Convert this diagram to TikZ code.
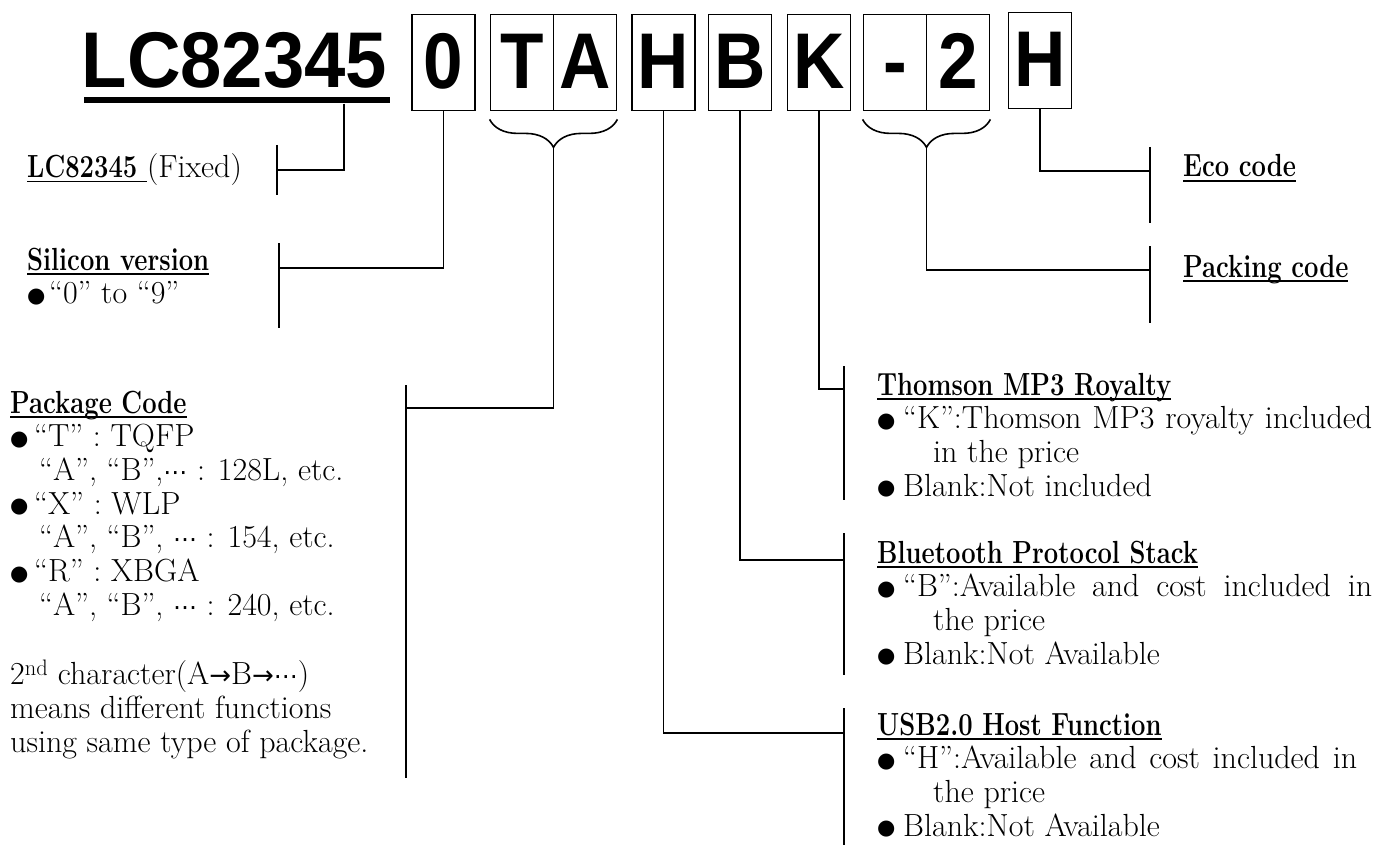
\documentclass[tikz,border=0pt]{standalone}
\usepackage{fontspec}
\usepackage{tikz}
\usetikzlibrary{calc,decorations.pathreplacing}

\newfontfamily\codefont{Liberation Sans}
\newfontfamily\symfont{DejaVu Sans}
\newcommand\bodyfont{\fontsize{32}{33.7}\selectfont}
\newcommand\bigchar[1]{\scalebox{0.9}[1]{\codefont\bfseries\fontsize{79}{79}\selectfont #1}}
\newcommand\ulined[1]{\setbox0\hbox{#1}\rlap{\rule[-4.5pt]{\wd0}{1.8pt}}\box0}
\newcommand\headtext[1]{\ulined{\scalebox{0.8}[1]{\bfseries #1}}}
\newcommand\dotmark[1][26pt]{\makebox[#1][l]{\raisebox{1.5pt}{\symfont\fontsize{21}{21}\selectfont ●}}}
\newcommand\middots{{\symfont\fontsize{24}{24}\selectfont ⋯}}
\newcommand\arr{{\symfont\fontsize{26}{26}\selectfont →}}

\begin{document}
\begin{tikzpicture}[x=1pt,y=-1pt,
  digit/.style={draw, line width=1.8pt, minimum width=63pt, minimum height=96pt,
    inner sep=0pt, text height=57pt, text depth=4pt},
  wire/.style={line width=1.6pt},
  brace/.style={decorate, decoration={brace, mirror, amplitude=28pt}, line width=1.6pt},
  txt/.style={font=\bodyfont, inner sep=0pt, align=left}]
\useasboundingbox (0,0) rectangle (1375,845);

% part number
\node[anchor=base west, inner sep=0pt] (prefix) at (81.5,88)
  {\scalebox{0.94}[1]{\codefont\bfseries\fontsize{79}{79}\selectfont LC82345}};
\node[fill, inner sep=0pt, minimum width=306pt, minimum height=6.5pt, anchor=north west] (bar) at (83.5,96.7) {};

\node[digit] (c0) at (443.5,62.5) {\bigchar{0}};
\node[digit] (cT) at (522,62.5) {\bigchar{T}};
\node[digit] (cA) at (585,62.5) {\bigchar{A}};
\node[digit] (cH) at (663.5,62.5) {\bigchar{H}};
\node[digit] (cB) at (740,62.5) {\bigchar{B}};
\node[digit] (cK) at (819,62.5) {\bigchar{K}};
\node[digit] (cDash) at (895,62.5) {\bigchar{-}};
\node[digit] (c2) at (958,62.5) {\bigchar{2}};
\node[digit] (cEco) at (1040,60.5) {\bigchar{H}};

\draw[brace] ([yshift=-8pt]cT.south west) -- ([yshift=-8pt]cA.south east);
\draw[brace] ([yshift=-8pt]cDash.south west) -- ([yshift=-8pt]c2.south east);
\coordinate (pkgtip) at ($(cT.south west)!0.5!(cA.south east)+(0,36)$);
\coordinate (packtip) at ($(cDash.south west)!0.5!(c2.south east)+(0,36)$);
\coordinate (pfxdrop) at ($(bar.south east)+(-46,0)$);

% labels
\node[txt, anchor=base west] (fixed) at (27,178)
  {\ulined{\scalebox{0.8}[1]{\bfseries LC82345}\ }(Fixed)};
\node[txt, anchor=north west] (silicon) at (27,246.4)
  {\strut\headtext{Silicon version}\\
   \strut\dotmark[22pt]“0” to “9”};
\node[txt, anchor=north west] (package) at (10,389.4)
  {\strut\headtext{Package Code}\\
   \strut\dotmark[24pt]“T” : TQFP\\
   \strut\hspace*{29pt}“A”, “B”,\middots{} : 128L, etc.\\
   \strut\dotmark[24pt]“X” : WLP\\
   \strut\hspace*{29pt}“A”, “B”, \middots{} : 154, etc.\\
   \strut\dotmark[24pt]“R” : XBGA\\
   \strut\hspace*{29pt}“A”, “B”, \middots{} : 240, etc.\\
   \strut\\
   \strut 2\textsuperscript{nd} character(A\arr B\arr\middots)\\
   \strut means different functions\\
   \strut using same type of package.};
\node[txt, anchor=base west] (eco) at (1183,177) {\headtext{Eco code}};
\node[txt, anchor=base west] (packing) at (1183,277) {\headtext{Packing code}};
\node[txt, anchor=north west] (royalty) at (877,371.4)
  {\strut\headtext{Thomson MP3 Royalty}\\
   \strut\makebox[495pt][s]{\dotmark“K”:Thomson MP3 royalty included}\\
   \strut\hspace*{56pt}in the price\\
   \strut\dotmark Blank:Not included};
\node[txt, anchor=north west] (bluetooth) at (877,539.4)
  {\strut\headtext{Bluetooth Protocol Stack}\\
   \strut\makebox[495pt][s]{\dotmark“B”:Available and cost included in}\\
   \strut\hspace*{56pt}the price\\
   \strut\dotmark Blank:Not Available};
\node[txt, anchor=north west] (usb) at (877,711.4)
  {\strut\headtext{USB2.0 Host Function}\\
   \strut\makebox[480pt][s]{\dotmark“H”:Available and cost included in}\\
   \strut\hspace*{56pt}the price\\
   \strut\dotmark Blank:Not Available};

% brackets
\foreach \x/\ya/\yb in {277/145/195, 279/243/328, 406/385/778, 1150/147/223,
  1150/246/323, 844/366/500, 844/533/675, 844/708/845}
  \draw[wire] (\x,\ya) -- (\x,\yb);
\coordinate (fixedJ) at (277,170);
\coordinate (siliconJ) at (279,268);
\coordinate (packageJ) at (406,408);
\coordinate (ecoJ) at (1150,171);
\coordinate (packingJ) at (1150,270);
\coordinate (royaltyJ) at (844,389);
\coordinate (bluetoothJ) at (844,560);
\coordinate (usbJ) at (844,733);

\draw[wire] (pfxdrop) |- (fixedJ);
\draw[wire] (c0.south) |- (siliconJ);
\draw[wire] (pkgtip) |- (packageJ);
\draw[wire] (cEco.south) |- (ecoJ);
\draw[wire] (packtip) |- (packingJ);
\draw[wire] (cK.south) |- (royaltyJ);
\draw[wire] (cB.south) |- (bluetoothJ);
\draw[wire] (cH.south) |- (usbJ);
\end{tikzpicture}
\end{document}
